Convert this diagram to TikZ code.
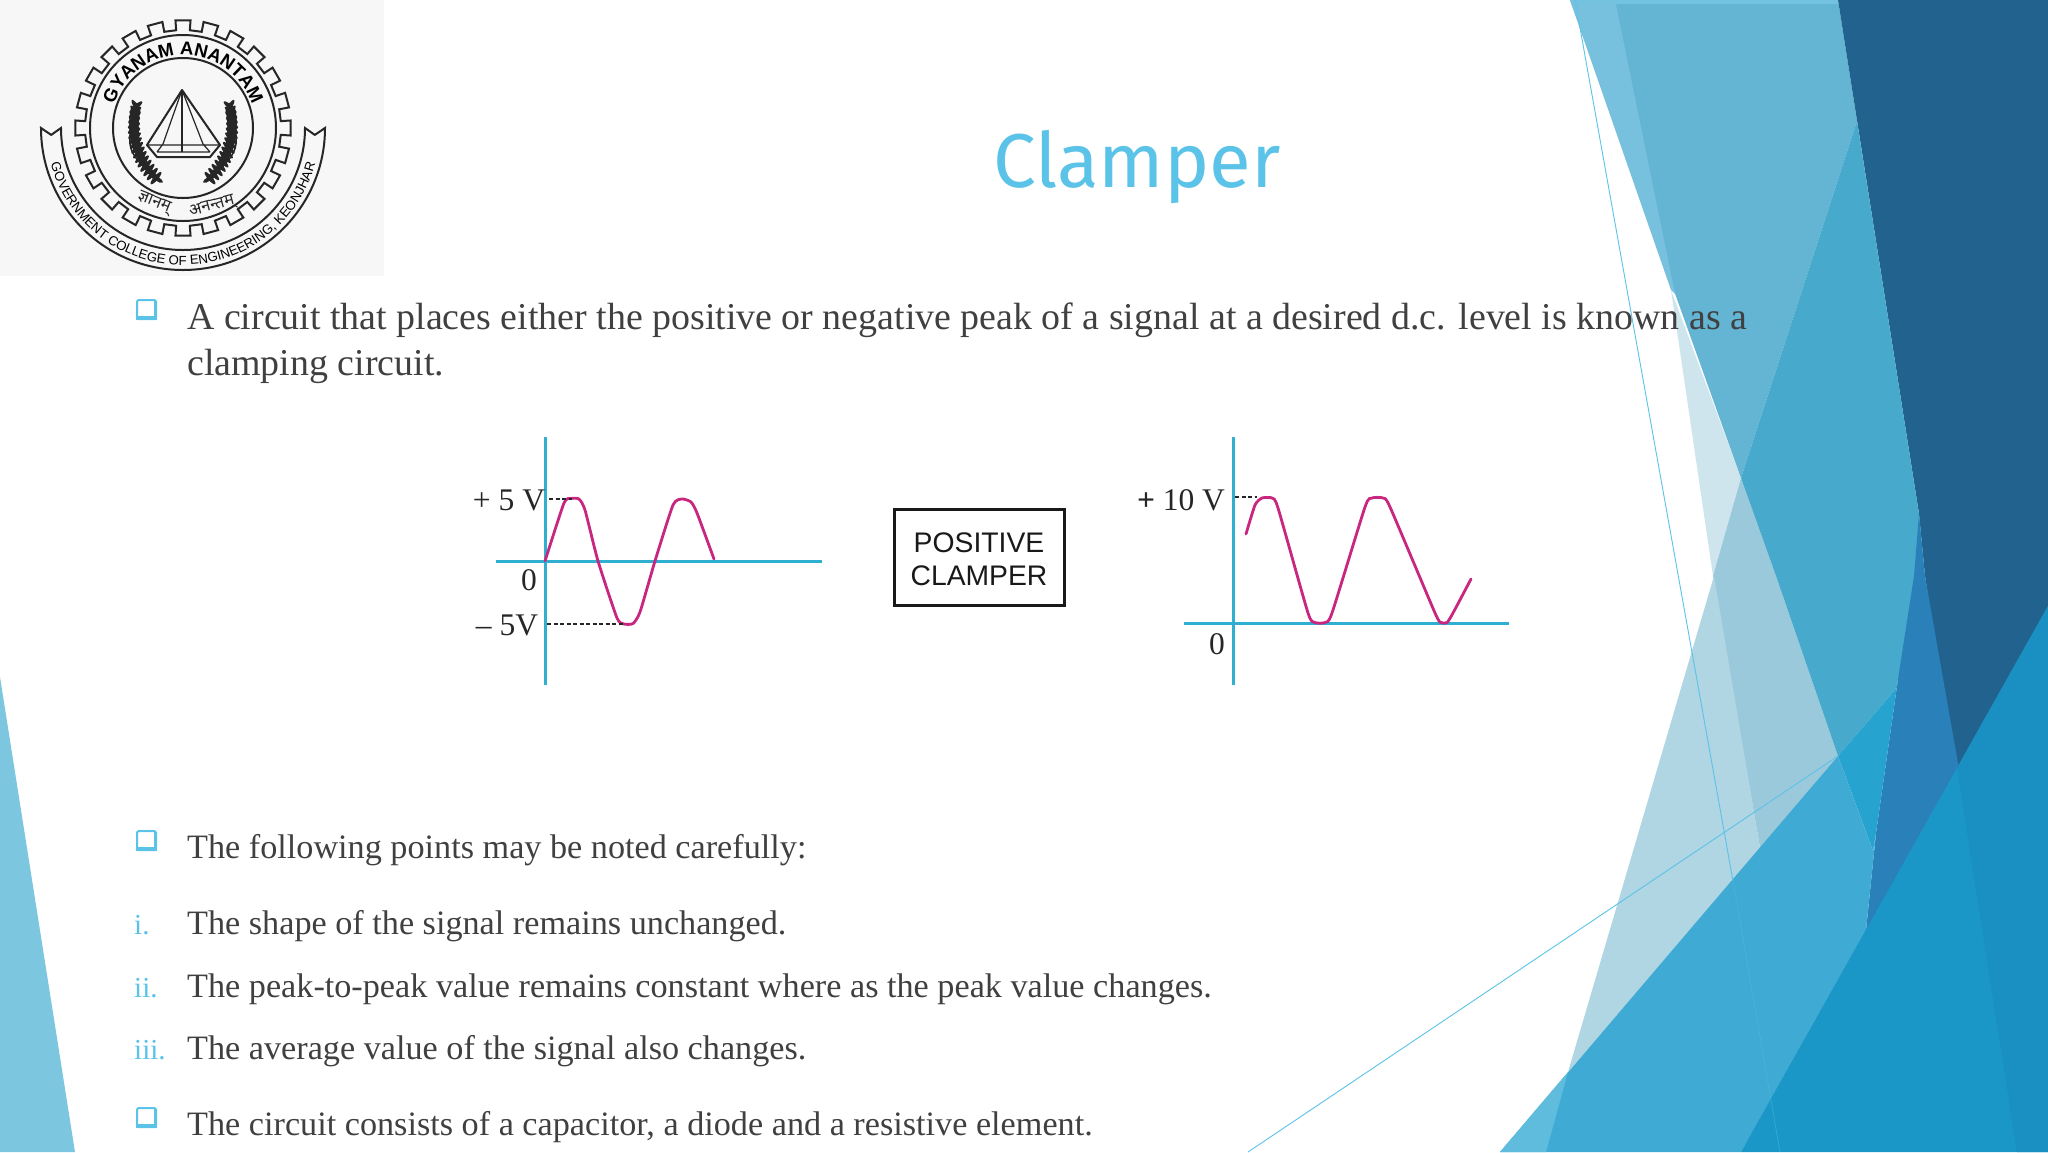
\documentclass[tikz,border=0pt]{standalone}
\usepackage{fontspec}
\setmainfont{Liberation Serif}
\setsansfont{Liberation Sans}
\newfontfamily\titlefont{Fira Sans}
\newfontfamily\devafont[Script=Devanagari]{Noto Sans}
\usetikzlibrary{decorations.text}
\definecolor{accent}{HTML}{5BC3E8}
\definecolor{bodytext}{HTML}{404040}
\definecolor{axisblue}{HTML}{2FB0D0}
\definecolor{wave}{HTML}{C8267F}
\tikzset{
  x=1pt,y=1pt,
  body/.style={anchor=base west,inner sep=0pt,text=bodytext,font=\fontsize{34.2}{34.2}\selectfont},
  bodybig/.style={anchor=base west,inner sep=0pt,text=bodytext,font=\fontsize{37.9}{37.9}\selectfont},
  numlabel/.style={anchor=base west,inner sep=0pt,text=accent,font=\fontsize{29}{29}\selectfont},
  axisline/.style={draw=axisblue,line width=3pt},
  waveline/.style={draw=wave,line width=2.8pt,line cap=round},
  leveldash/.style={draw=black!85,line width=1.5pt,dash pattern=on 4pt off 2.5pt},
  graphlabel/.style={inner sep=0pt,text=black!85,font=\fontsize{31.5}{31.5}\selectfont},
  boxtext/.style={inner sep=0pt,text=black!90,font=\sffamily\fontsize{28.3}{28.3}\selectfont},
  logoline/.style={draw=black!85,line width=2pt},
}
\newcommand{\bulletbox}[2]{%
  \draw[accent,line width=2pt,rounded corners=1.5pt] (#1,-#2) rectangle ++(19,-19);
  \fill[accent] (#1-1,-#2-16) rectangle ++(21,-4);
  \fill[accent] (#1+16.5,-#2-1) rectangle ++(3.5,-19);
}
\newcommand{\wheatear}{%
  \draw[black!85,line width=1.5pt] (160,-182) .. controls (125,-150) .. (137,-103);
  \foreach \t in {0.06,0.12,...,1.0}{
    \pgfmathsetmacro{\px}{(1-\t)*(1-\t)*160+2*\t*(1-\t)*125+\t*\t*137}
    \pgfmathsetmacro{\py}{-((1-\t)*(1-\t)*182+2*\t*(1-\t)*150+\t*\t*103)}
    \fill[black!85] (\px,\py) ellipse[x radius=8pt,y radius=2.2pt,rotate=150-30*\t];
    \fill[black!85] (\px,\py) ellipse[x radius=8pt,y radius=2.2pt,rotate=50-10*\t];
  }
}
\begin{document}
\begin{tikzpicture}
\useasboundingbox (0,0) rectangle (2048,-1152);
\fill[white] (0,0) rectangle (2048,-1152);

% --- decorative shapes, right side
\fill[fill={rgb,255:red,207;green,229;blue,238}] (1671,-290) -- (1713,-576) -- (1741,-478) -- cycle;
\fill[fill={rgb,255:red,155;green,201;blue,220}] (1713,-576) -- (1741,-478) -- (1776,-576) -- (1838,-756) -- (1760,-848) -- cycle;
\fill[fill={rgb,255:red,176;green,213;blue,227}] (1714,-576) -- (1760,-848) -- (1568,-1072) -- cycle;
\fill[fill={rgb,255:red,100;green,181;blue,211}] (1570,0) -- (1838,0) -- (1857,-121) -- (1741,-478) -- cycle;
\fill[fill={rgb,255:red,120;green,193;blue,222}] (1570,0) -- (1615,0) -- (1675,-294) -- (1671,-290) -- cycle;
\fill[fill={rgb,255:red,115;green,194;blue,224}] (1573,0) rectangle (1838,-4);
\fill[fill={rgb,255:red,34;green,98;blue,143}] (1838,0) -- (2048,0) -- (2048,-620) -- (1957,-790) -- (1925,-576) -- (1919,-514) -- cycle;
\fill[fill={rgb,255:red,71;green,169;blue,204}] (1857,-121) -- (1919,-514) -- (1925,-580) -- (1898,-679) -- (1895,-690) -- (1838,-756) -- (1776,-576) -- (1741,-478) -- cycle;
\fill[fill={rgb,255:red,42;green,128;blue,185}] (1919,-514) -- (1925,-576) -- (1960,-775) -- (1865,-940) -- (1876,-833) -- (1898,-679) -- (1914,-576) -- cycle;
\fill[fill={rgb,255:red,38;green,163;blue,206}] (1838,-756) -- (1895,-690) -- (1898,-679) -- (1876,-833) -- (1873,-851) -- cycle;
\fill[fill={rgb,255:red,63;green,171;blue,212}] (1500,-1152) -- (1838,-756) -- (1873,-851) -- (1876,-833) -- (1865,-940) -- (1741,-1152) -- cycle;
\fill[fill={rgb,255:red,95;green,188;blue,221}] (1500,-1152) -- (1568,-1072) -- (1546,-1152) -- cycle;
\fill[fill={rgb,255:red,26;green,150;blue,199}] (1741,-1152) -- (2048,-606) -- (2048,-1152) -- cycle;
\fill[fill={rgb,255:red,26;green,143;blue,193}] (1957,-768) -- (2048,-606) -- (2048,-1152) -- (2017,-1152) -- cycle;
\fill[fill={rgb,255:red,124;green,198;blue,224}] (0,-677) -- (75,-1152) -- (0,-1152) -- cycle;
\coordinate (lineAtop) at (1575,0);
\coordinate (lineAmid) at (1733,-881);
\coordinate (lineAend) at (1780,-1152);
\coordinate (lineBend) at (1248,-1152);
\coordinate (lineBtop) at (1838,-756);
\draw[accent,line width=0.9pt] (lineAtop) -- (lineAmid);
\draw[accent!60!axisblue,opacity=.5,line width=0.8pt] (lineAmid) -- (lineAend);
\draw[accent,line width=0.9pt] (lineBend) -- (lineBtop);

% --- logo
\fill[fill={rgb,255:red,247;green,247;blue,247}] (0,0) rectangle (384,-276);
\begin{scope}[shift={(183,-128)}]
  \draw[logoline,line join=miter] (11:98) \foreach \a in {15,30,...,360}{ -- (\a-4:98) -- (\a-4:108) -- (\a+4:108) -- (\a+4:98) } -- cycle;
  \draw[logoline] (0,0) circle[radius=93];
  \draw[logoline] (0,0) circle[radius=70];
  \draw[logoline,line join=miter] (180:142) arc[start angle=180,end angle=360,radius=142] -- (357:132) -- (360:122) arc[start angle=360,end angle=180,radius=122] -- (183:132) -- cycle;
  \path[decorate,decoration={text along path,text align=center,text={|\sffamily\bfseries\fontsize{18.5}{18.5}\selectfont|GYANAM ANANTAM}}] (160:73) arc[start angle=160,end angle=20,radius=73];
  \path[decorate,decoration={text along path,text align=center,text={|\sffamily\fontsize{13.2}{13.2}\selectfont|GOVERNMENT COLLEGE OF ENGINEERING, KEONJHAR}}] (186:137) arc[start angle=186,end angle=354,radius=137];
\end{scope}
\node[inner sep=0pt,rotate=-22,font=\devafont\fontsize{16.5}{16.5}\selectfont,text=black!85] (motto1) at (154,-203) {ज्ञानम्};
\node[inner sep=0pt,rotate=15,font=\devafont\fontsize{16.5}{16.5}\selectfont,text=black!85] (motto2) at (212,-207) {अनन्तम्};
\wheatear
\begin{scope}[xshift=366pt,xscale=-1]\wheatear\end{scope}
\draw[logoline,line join=round] (182,-90) -- (147,-145) -- (157,-157) -- (210,-157) -- (220,-145) -- cycle;
\draw[logoline,line width=1.2pt] (182,-90) -- (163,-144) (182,-90) -- (203,-144);
\draw[logoline,line width=1.2pt] (147,-145) -- (220,-145) (157,-152) -- (210,-152) (163,-144) -- (157,-152) (203,-144) -- (210,-152);
\draw[logoline,line width=2.4pt] (182,-90) -- (182,-152);

% --- title and text
\node[anchor=base,inner sep=0pt,text=accent,font=\titlefont\fontsize{76.3}{76.3}\selectfont] (title) at (1137,-187) {Clamper};
\bulletbox{137}{300}
\node[bodybig] (l1) at (187,-329) {A circuit that places either the positive or negative peak of a signal at a desired d.c. level is known as a};
\node[bodybig] (l2) at (187,-375) {clamping circuit.};
\bulletbox{137}{831}
\node[body] (l3) at (187,-858) {The following points may be noted carefully:};
\node[numlabel] (n1) at (134,-934) {i.};
\node[body] (l4) at (187,-934) {The shape of the signal remains unchanged.};
\node[numlabel] (n2) at (134,-997) {ii.};
\node[body] (l5) at (187,-997) {The peak-to-peak value remains constant where as the peak value changes.};
\node[numlabel] (n3) at (134,-1059) {iii.};
\node[body] (l6) at (187,-1059) {The average value of the signal also changes.};
\bulletbox{137}{1108}
\node[body] (l7) at (187,-1135) {The circuit consists of a capacitor, a diode and a resistive element.};

% --- input graph
\coordinate (vAt) at (545,-437); \coordinate (vAb) at (545,-685);
\coordinate (hAl) at (496,-561); \coordinate (hAr) at (822,-561);
\draw[axisline] (vAt) -- (vAb);
\draw[axisline] (hAl) -- (hAr);
\draw[waveline] plot[smooth,tension=.35] coordinates {(545,-561) (564,-503) (571,-498.5) (579,-499) (585,-510) (598,-561) (617,-618) (624,-624) (633,-623.5) (640,-612) (655,-561) (673,-505) (682,-499) (691,-502) (697,-513) (714,-559)};
\coordinate (dA1) at (549,-499); \coordinate (dA2) at (572,-499);
\coordinate (dA3) at (547,-624); \coordinate (dA4) at (625,-624);
\draw[leveldash] (dA1) -- (dA2);
\draw[leveldash] (dA3) -- (dA4);
\node[graphlabel] (p5) at (509,-500) {+ 5 V};
\node[graphlabel] (z0) at (529,-580) {0};
\node[graphlabel] (m5) at (507,-625) {– 5V};

% --- clamper box
\node[draw=black!90,line width=2.8pt,minimum width=170pt,minimum height=96pt,inner sep=0pt] (clamper) at (979.5,-557.5) {};
\node[boxtext] (clamperA) at (979,-543) {POSITIVE};
\node[boxtext] (clamperB) at (979,-576) {CLAMPER};

% --- output graph
\coordinate (vBt) at (1233,-437); \coordinate (vBb) at (1233,-685);
\coordinate (hBl) at (1184,-623); \coordinate (hBr) at (1509,-623);
\draw[axisline] (vBt) -- (vBb);
\draw[axisline] (hBl) -- (hBr);
\draw[waveline] plot[smooth,tension=.35] coordinates {(1246,-534) (1255,-505) (1262,-498) (1272,-498) (1278,-508) (1308,-613) (1315,-622.5) (1325,-622.5) (1332,-613) (1365,-507) (1372,-498) (1383,-498) (1390,-507) (1435,-613) (1441,-622.5) (1447,-622.5) (1453,-613) (1471,-579)};
\coordinate (dB1) at (1235,-497); \coordinate (dB2) at (1257,-497);
\draw[leveldash] (dB1) -- (dB2);
\node[graphlabel] (p10) at (1181,-500) {\textbf{+} 10 V};
\node[graphlabel] (z1) at (1217,-644) {0};
\end{tikzpicture}
\end{document}
